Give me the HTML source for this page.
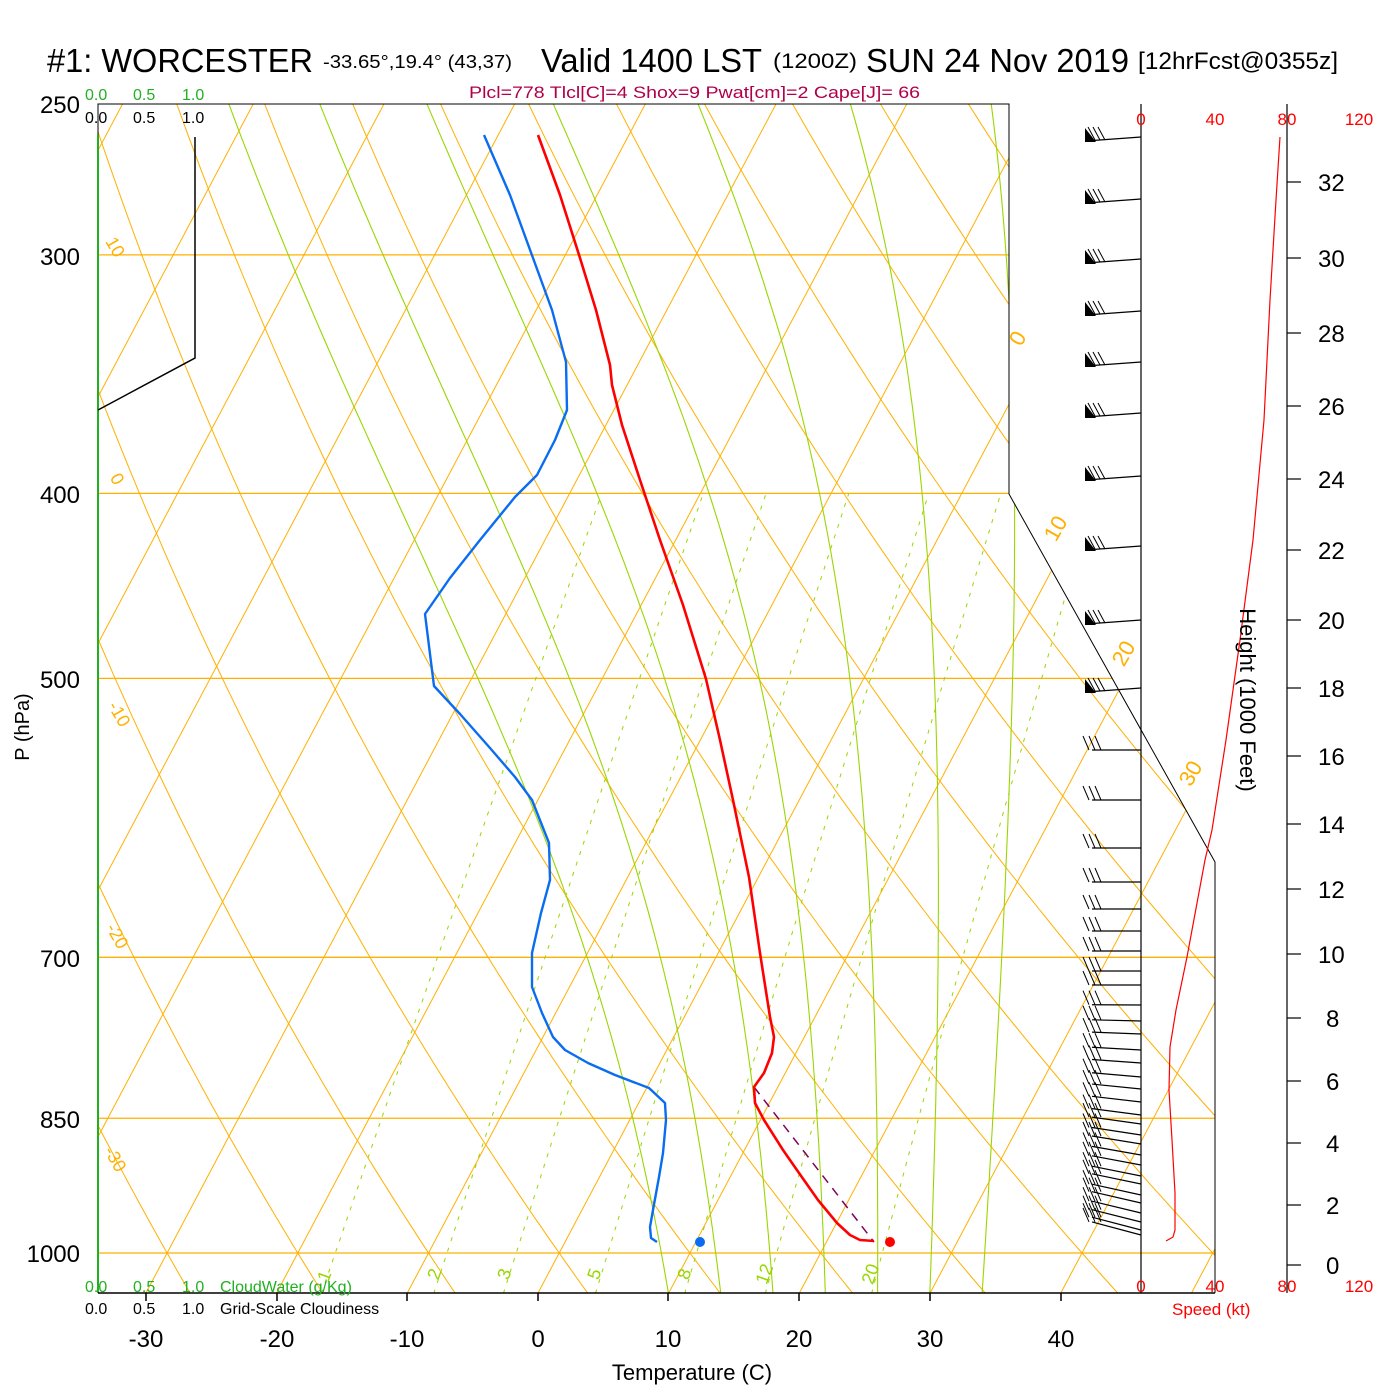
<!DOCTYPE html>
<html><head><meta charset="utf-8"><style>
html,body{margin:0;padding:0;background:#fff;}
svg{display:block;font-family:"Liberation Sans",Arial,sans-serif;}
</style></head><body>
<svg id="s" width="1400" height="1400" viewBox="0 0 1400 1400" xmlns="http://www.w3.org/2000/svg">
<defs><clipPath id="cp"><polygon points="98,104 1009,104 1009,494 1215,862 1215,1293 98,1293"/></clipPath></defs>
<rect width="1400" height="1400" fill="#fff"/>
<g id="bg" clip-path="url(#cp)" fill="none"></g>
<g id="fg"></g>
<text x="47" y="72" font-size="33" textLength="266" lengthAdjust="spacingAndGlyphs">#1: WORCESTER</text>
<text x="323" y="68" font-size="18" textLength="189" lengthAdjust="spacingAndGlyphs">-33.65°,19.4° (43,37)</text>
<text x="541" y="72" font-size="33" textLength="221" lengthAdjust="spacingAndGlyphs">Valid 1400 LST</text>
<text x="773" y="68" font-size="21" textLength="84" lengthAdjust="spacingAndGlyphs">(1200Z)</text>
<text x="866" y="72" font-size="33" textLength="263" lengthAdjust="spacingAndGlyphs">SUN 24 Nov 2019</text>
<text x="1138" y="69" font-size="24" textLength="200" lengthAdjust="spacingAndGlyphs">[12hrFcst@0355z]</text>
<text x="469" y="98" font-size="17" fill="#b0004a" textLength="451" lengthAdjust="spacingAndGlyphs">Plcl=778 Tlcl[C]=4 Shox=9 Pwat[cm]=2 Cape[J]= 66</text>
<g font-size="16" fill="#20b020"><text x="85" y="100">0.0</text><text x="133" y="100">0.5</text><text x="182" y="100">1.0</text></g>
<g font-size="16" fill="#000"><text x="85" y="123">0.0</text><text x="133" y="123">0.5</text><text x="182" y="123">1.0</text></g>
<g font-size="16" fill="#20b020"><text x="85" y="1292">0.0</text><text x="133" y="1292">0.5</text><text x="182" y="1292">1.0</text><text x="220" y="1292">CloudWater (g/Kg)</text></g>
<g font-size="16" fill="#000"><text x="85" y="1314">0.0</text><text x="133" y="1314">0.5</text><text x="182" y="1314">1.0</text><text x="220" y="1314">Grid-Scale Cloudiness</text></g>
<g font-size="24" text-anchor="end"><text x="80" y="113">250</text><text x="80" y="265">300</text><text x="80" y="503">400</text><text x="80" y="688">500</text><text x="80" y="967">700</text><text x="80" y="1128">850</text><text x="80" y="1262">1000</text></g>
<text transform="translate(29,727) rotate(-90)" font-size="20" text-anchor="middle">P (hPa)</text>
<g font-size="24" text-anchor="middle"><text x="146" y="1347">-30</text><text x="277" y="1347">-20</text><text x="407" y="1347">-10</text><text x="538" y="1347">0</text><text x="668" y="1347">10</text><text x="799" y="1347">20</text><text x="930" y="1347">30</text><text x="1061" y="1347">40</text></g>
<text x="692" y="1380" font-size="22" text-anchor="middle">Temperature (C)</text>
<g font-size="17" fill="#f00" text-anchor="middle"><text x="1141" y="125">0</text><text x="1215" y="125">40</text><text x="1287" y="125">80</text><text x="1359" y="125">120</text>
<text x="1141" y="1292">0</text><text x="1215" y="1292">40</text><text x="1287" y="1292">80</text><text x="1359" y="1292">120</text></g>
<text x="1172" y="1315" font-size="17" fill="#f00">Speed (kt)</text>
<text transform="translate(1240,700) rotate(90)" font-size="22" text-anchor="middle">Height (1000 Feet)</text>
<script>
(function(){
var NS="http://www.w3.org/2000/svg";
function Y(p){return 1253-829*Math.log(1000/p);}
function X(T,p){return 538+13.07*T+0.53*(1293-Y(p));}
var bg=document.getElementById('bg'),fg=document.getElementById('fg');
function el(par,tag,a){var e=document.createElementNS(NS,tag);for(var k in a)e.setAttribute(k,a[k]);par.appendChild(e);return e;}
function poly(par,pts,a){a.points=pts.map(function(q){return q[0].toFixed(1)+","+q[1].toFixed(1)}).join(" ");a.fill="none";return el(par,'polyline',a);}
var OR="#ffb000",GR="#99d600";
[300,400,500,700,850,1000].forEach(function(p){el(bg,'line',{x1:98,x2:1215,y1:Y(p),y2:Y(p),stroke:OR,'stroke-width':1.3});});
for(var T=-140;T<=50;T+=10){poly(bg,[[X(T,1050),Y(1050)],[X(T,240),Y(240)]],{stroke:OR,'stroke-width':1});}
for(var th=-60;th<=200;th+=10){var pts=[];for(var p=1050;p>=240;p-=10){var Tk=(th+273.15)*Math.pow(p/1000,0.2857);pts.push([X(Tk-273.15,p),Y(p)]);}poly(bg,pts,{stroke:OR,'stroke-width':1});}
function es(t){return 6.112*Math.exp(17.67*t/(t+243.5));}
[10,14,18,22,26,30,34].forEach(function(t0){var T=t0+273.15,pts=[];for(var p=1050;p>=240;p-=1){if(p%5==0)pts.push([X(T-273.15,p),Y(p)]);var e=es(T-273.15),rs=0.622*e/(p-e);var Lv=2.5e6,Rd=287,cp=1005;var dTdp=(Rd*T+Lv*rs)/(p*(cp+Lv*Lv*rs*0.622/(Rd*T*T)));T-=dTdp;}poly(bg,pts,{stroke:GR,'stroke-width':1.1});});
[1,2,3,5,8,12,20].forEach(function(r){var pts=[];for(var p=1050;p>=400;p-=10){var e=r*p/(622+r),l=Math.log(e/6.112),td=243.5*l/(17.67-l);pts.push([X(td,p),Y(p)]);}poly(bg,pts,{stroke:GR,'stroke-width':1,'stroke-dasharray':'4,7'});});
function lab(t,x,y,rot,c,fs){var e=el(fg,'text',{x:0,y:0,transform:'translate('+x+','+y+') rotate('+rot+')','font-size':fs||18,fill:c,'text-anchor':'middle'});e.textContent=t;}
lab("10",110,250,60,OR);lab("0",112,482,60,OR);lab("-10",114,717,60,OR);lab("-20",112,939,60,OR);lab("-30",110,1162,60,OR);
lab("0",1024,342,-60,OR,22);lab("10",1062,532,-60,OR,22);lab("20",1130,657,-60,OR,22);lab("30",1197,777,-60,OR,22);
[["1",330,1278],["2",440,1276],["3",510,1276],["5",600,1276],["8",690,1276],["12",770,1276],["20",876,1276]].forEach(function(a){lab(a[0],a[1],a[2],-70,GR,18);});
el(fg,'polyline',{points:"98,135 98,104 1009,104 1009,494 1215,862 1215,1293",fill:"none",stroke:"#000",'stroke-width':1});
el(fg,'line',{x1:98,x2:98,y1:135,y2:1293,stroke:"#20b020",'stroke-width':2});
el(fg,'line',{x1:98,x2:1215,y1:1293,y2:1293,stroke:"#000",'stroke-width':1.5});
[146,277,407,538,668,799,930,1061].forEach(function(x){el(fg,'line',{x1:x,x2:x,y1:1293,y2:1301,stroke:"#000",'stroke-width':1.5});});
el(fg,'line',{x1:1141,x2:1141,y1:104,y2:1293,stroke:"#000",'stroke-width':1.2});
el(fg,'line',{x1:1287,x2:1287,y1:104,y2:1293,stroke:"#000",'stroke-width':1.2});
var hl=[[32,182],[30,258],[28,333],[26,406],[24,479],[22,550],[20,620],[18,688],[16,756],[14,824],[12,889],[10,954],[8,1018],[6,1081],[4,1143],[2,1205],[0,1265]];
hl.forEach(function(h){el(fg,'line',{x1:1287,x2:1301,y1:h[1],y2:h[1],stroke:"#000",'stroke-width':1.2});var t=el(fg,'text',{x:h[0]>=10?1318:1326,y:h[1]+9,'font-size':24});t.textContent=h[0];});
poly(fg,[[195,137],[195,358],[98,410]],{stroke:"#000",'stroke-width':1.5});
var fy=[137,199,259,311,362,413,476,546,620,688];
fy.forEach(function(y){el(fg,'line',{x1:1141,y1:y,x2:1086,y2:y+4,stroke:"#000",'stroke-width':1.3});el(fg,'polygon',{points:(1085)+","+(y-9)+" 1085,"+(y+5)+" 1096,"+(y+5),fill:"#000"});[1091,1096,1101].forEach(function(x){el(fg,'line',{x1:x-3,y1:y-10,x2:x+4,y2:y+3,stroke:"#000",'stroke-width':1});});});
var by=[750,800,848,882,909,931,951,971,985,1005,1021,1034,1050,1063,1077,1089,1102,1115,1124,1135,1144,1155,1165,1176,1184,1195,1203,1213,1222,1230,1235];
by.forEach(function(y,i){var d=y>1000?(y-1000)/18:0;el(fg,'line',{x1:1141,y1:y,x2:1092,y2:y-d,stroke:"#000",'stroke-width':1.2});[1086,1092,1098].forEach(function(x){el(fg,'line',{x1:x-3,y1:y-d-14,x2:x+3,y2:y-d,stroke:"#000",'stroke-width':1});});});
poly(fg,[[1280,137],[1276,200],[1270,300],[1264,420],[1253,540],[1240,640],[1226,740],[1212,830],[1205,860],[1187,957],[1176,1010],[1170,1047],[1169,1090],[1172,1140],[1175,1193],[1175,1230],[1173,1237],[1166,1241]],{stroke:"#f00",'stroke-width':1.2});
poly(fg,[[754,1087],[874,1242]],{stroke:"#800060",'stroke-width':1.5,'stroke-dasharray':'9,7'});
poly(fg,[[538,135],[560,195],[580,258],[596,310],[610,365],[612,385],[622,425],[640,480],[660,540],[683,605],[706,679],[720,740],[733,800],[749,877],[760,953],[770,1017],[774,1037],[772,1053],[764,1073],[754,1087],[755,1103],[764,1120],[783,1150],[799,1173],[818,1200],[837,1223],[850,1235],[860,1240],[874,1241]],{stroke:"#f00",'stroke-width':2.6,'stroke-linejoin':'round'});
poly(fg,[[484,135],[510,195],[533,258],[552,310],[566,362],[567,410],[555,440],[537,475],[515,497],[480,540],[450,578],[425,614],[434,686],[460,714],[490,748],[515,777],[532,800],[549,843],[550,880],[541,913],[532,953],[532,987],[542,1013],[553,1037],[565,1050],[588,1063],[615,1075],[649,1088],[665,1103],[666,1120],[663,1153],[659,1177],[653,1210],[650,1227],[651,1238],[657,1242]],{stroke:"#0a6cf0",'stroke-width':2.4,'stroke-linejoin':'round'});
el(fg,'circle',{cx:700,cy:1242,r:5,fill:"#0a6cf0"});
el(fg,'circle',{cx:890,cy:1242,r:5,fill:"#f00"});
})();
</script>
</svg>
</body></html>
